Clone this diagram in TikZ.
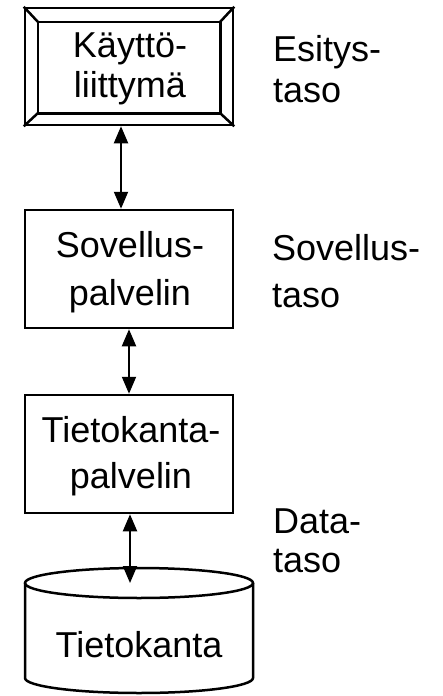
\documentclass[tikz,border=0pt]{standalone}
\usepackage{fontspec}
\setmainfont{Liberation Sans}
\usetikzlibrary{arrows.meta}
\begin{document}
\begin{tikzpicture}[x=1pt,y=-1pt,
  box/.style={draw, line width=2.5pt, minimum width=208pt, minimum height=118pt, inner sep=0pt},
  txt/.style={font=\fontsize{36}{#1}\selectfont, align=center, inner sep=0pt, anchor=base},
  lbl/.style={font=\fontsize{36}{#1}\selectfont, anchor=base west, align=left, inner sep=0pt},
  link/.style={line width=2pt, {Triangle[length=17pt,width=14pt]}-{Triangle[length=17pt,width=14pt]}},
  edge/.style={line width=2.5pt, line join=miter}]
\useasboundingbox (0,0) rectangle (443,696);

% Presentation tier: bevelled user-interface box
\node[box, minimum height=117pt] (ui) at (129,66.5) {};
\coordinate (uinw) at ([shift={(14pt,-15pt)}]ui.north west);
\coordinate (uise) at ([shift={(-14pt,13pt)}]ui.south east);
\draw[edge] (uinw) rectangle (uise);
\draw[edge] (ui.north west) -- (uinw);
\draw[edge] (ui.south east) -- (uise);
\draw[edge] (ui.north east) -- (uinw -| uise);
\draw[edge] (ui.south west) -- (uinw |- uise);
\node[txt=40] (uitext) at (130,97) {Käyttö-\\liittymä};

% Application and database servers
\node[box] (app) at (129,269) {};
\node[txt=48] (apptext) at (130,305) {Sovellus-\\palvelin};
\node[box] (dbs) at (129,454) {};
\node[txt=46] (dbstext) at (131,488) {Tietokanta-\\palvelin};

% Database cylinder
\draw[edge] (25,583) -- (25,678) arc[start angle=180, end angle=0, x radius=114, y radius=15]
  -- (253,583);
\draw[edge] (139,583) ellipse[x radius=114, y radius=15];
\coordinate (db) at (130,583);
\node[txt=40] (dbtext) at (139,657) {Tietokanta};

% Connections between the tiers
\draw[link] ([xshift=-8pt]ui.south) -- ([xshift=-8pt]app.north);
\draw[link] (app.south) -- (dbs.north);
\draw[link] ([xshift=1pt]dbs.south) -- (db);

% Tier labels
\node[lbl=41] (l1) at (273,102) {Esitys-\\taso};
\node[lbl=47] (l2) at (272,307) {Sovellus-\\taso};
\node[lbl=39] (l3) at (273,572) {Data-\\taso};
\end{tikzpicture}
\end{document}
